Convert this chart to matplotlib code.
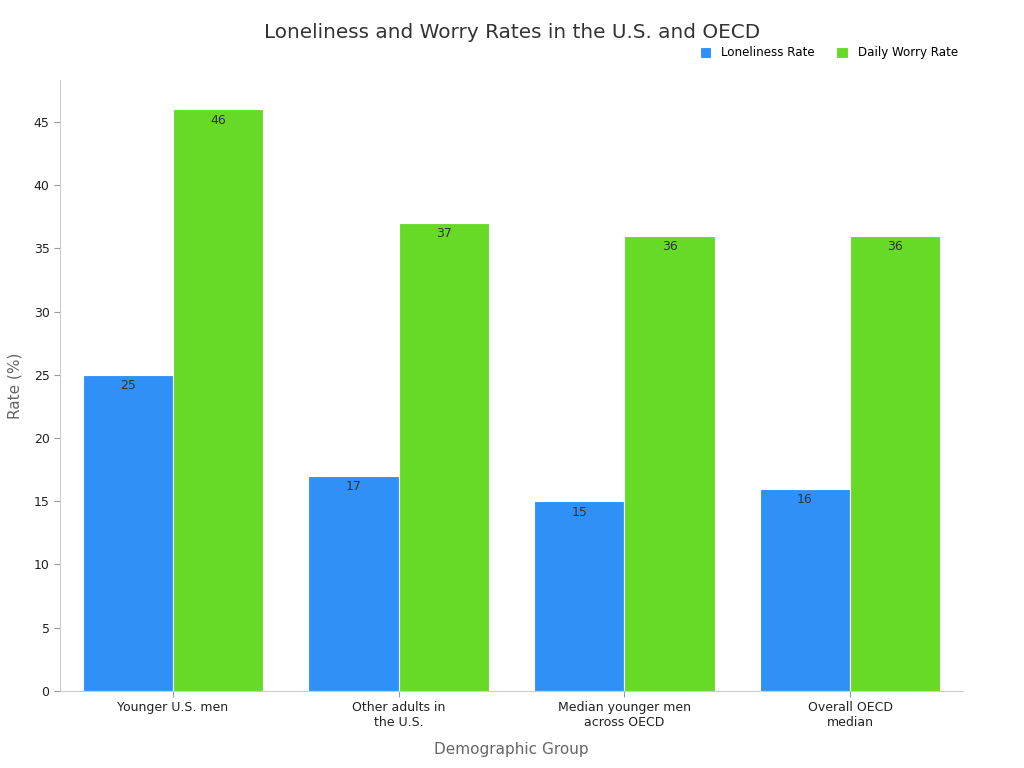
import numpy as np
import matplotlib
matplotlib.use("Agg")
import matplotlib.pyplot as plt

# Data
groups = ["Younger U.S. men", "Other adults in\nthe U.S.", "Median younger men\nacross OECD", "Overall OECD\nmedian"]
loneliness = [25, 17, 15, 16]
worry = [46, 37, 36, 36]

blue = "#2F91F8"
green = "#66DA26"

fig = plt.figure(figsize=(10.24, 7.68), dpi=100)
ax = fig.add_axes([0.0586, 0.1003, 0.8818, 0.7955])

x = np.arange(len(groups))
w = 0.4
b1 = ax.bar(x - w / 2, loneliness, w, color=blue, edgecolor="white", linewidth=0.8, label="Loneliness Rate")
b2 = ax.bar(x + w / 2, worry, w, color=green, edgecolor="white", linewidth=0.8, label="Daily Worry Rate")

# value labels inside the top of each bar
for bars, vals in [(b1, loneliness), (b2, worry)]:
    for r, v in zip(bars, vals):
        ax.text(r.get_x() + r.get_width() / 2, v - 0.35, str(v), ha="center", va="top",
                fontsize=9, color="#333333")

ax.set_xlim(-0.5, 3.5)
ax.set_ylim(0, 48.3)
ax.set_yticks(np.arange(0, 46, 5))
ax.set_xticks(x)
ax.set_xticklabels(groups, fontsize=9, color="#222222")
ax.tick_params(axis="y", labelsize=9, colors="#222222")
ax.tick_params(axis="both", color="#999999", length=4)

for s in ["top", "right"]:
    ax.spines[s].set_visible(False)
for s in ["left", "bottom"]:
    ax.spines[s].set_color("#cccccc")

ax.set_xlabel("Demographic Group", fontsize=11, color="#666666", labelpad=9)
ax.set_ylabel("Rate (%)", fontsize=11, color="#666666", labelpad=8)

fig.suptitle("Loneliness and Worry Rates in the U.S. and OECD", fontsize=14.4, color="#333333", y=0.97)

fig.legend(loc="center right", bbox_to_anchor=(0.940, 0.931), ncol=2, frameon=False, fontsize=8.6,
           handlelength=1.0, handleheight=1.0, columnspacing=1.8, borderaxespad=0.0)

fig.savefig("out.png", dpi=100)
